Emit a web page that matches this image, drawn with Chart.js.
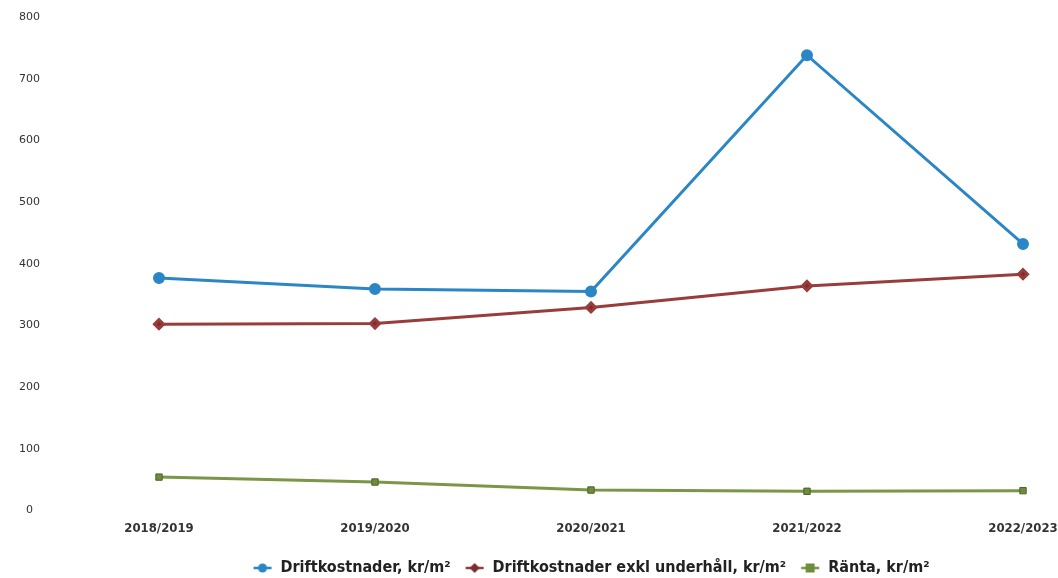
<!DOCTYPE html>
<html>
<head>
<meta charset="utf-8">
<script src="https://cdn.jsdelivr.net/npm/chart.js@4"></script>
<style>
  html, body { margin:0; padding:0; background:#fff; }
  #wrap { width:1058px; height:578px; }
</style>
</head>
<body>
<div id="wrap"><canvas id="chart" width="1058" height="578"></canvas></div>
<script>
// ===== DATA =====
const years = ['2018/2019', '2019/2020', '2020/2021', '2021/2022', '2022/2023'];
const drift = [377, 359, 355, 738, 432];
const driftExkl = [302, 303, 329, 364, 383];
const ranta = [54, 46, 33, 31, 32];

// ===== LEGEND-IKONER (linje + markör) =====
function legendIcon(lineColor, fillColor, shape){
  const c = document.createElement('canvas');
  c.width = 20; c.height = 12;
  const g = c.getContext('2d');
  g.strokeStyle = lineColor;
  g.lineWidth = 2.5;
  g.beginPath(); g.moveTo(1,6); g.lineTo(19,6); g.stroke();
  g.fillStyle = fillColor;
  g.beginPath();
  if(shape === 'circle'){
    g.arc(10,6,4.5,0,Math.PI*2);
  } else if(shape === 'diamond'){
    g.moveTo(10,1); g.lineTo(15,6); g.lineTo(10,11); g.lineTo(5,6); g.closePath();
  } else {
    g.rect(5.5,1.5,9,9);
  }
  g.fill();
  return c;
}
const icons = [
  legendIcon('#2b86c6','#2b86c6','circle'),
  legendIcon('#983c3c','#7d2e30','diamond'),
  legendIcon('#7a9646','#6f8c3c','rect')
];

// ===== CHART =====
const chart = new Chart(document.getElementById('chart'), {
  type:'line',
  data:{
    labels: years,
    datasets:[
      {
        label:'Driftkostnader, kr/m²',
        data: drift,
        borderColor:'#2b86c6',
        backgroundColor:'#2b86c6',
        borderWidth:3,
        pointStyle:'circle',
        pointRadius:4.5,
        tension:0
      },
      {
        label:'Driftkostnader exkl underhåll, kr/m²',
        data: driftExkl,
        borderColor:'#983c3c',
        backgroundColor:'#7d2e30',
        borderWidth:3,
        pointStyle:'rectRot',
        pointRadius:4.5,
        tension:0
      },
      {
        label:'Ränta, kr/m²',
        data: ranta,
        borderColor:'#7a9646',
        backgroundColor:'#6f8c3c',
        pointBorderColor:'#4c6428',
        pointBorderWidth:1,
        borderWidth:3,
        pointStyle:'rect',
        pointRadius:4.5,
        tension:0
      }
    ]
  },
  options:{
    responsive:false,
    animation:false,
    layout:{ padding:{ left:18, right:0, top:17, bottom:-8 } },
    plugins:{
      legend:{
        position:'bottom',
        fullSize:false,
        labels:{
          usePointStyle:true,
          pointStyleWidth:20,
          boxHeight:10,
          padding:14,
          color:'#222',
          font:{ family:'DejaVu Sans Condensed', size:16, weight:'bold' },
          generateLabels:(ch)=>{
            const items = Chart.defaults.plugins.legend.labels.generateLabels(ch);
            items.forEach((it,i)=>{ it.pointStyle = icons[i]; });
            return items;
          }
        }
      },
      tooltip:{ enabled:false }
    },
    scales:{
      x:{
        offset:false,
        grid:{ display:false, drawTicks:false },
        border:{ display:false },
        ticks:{
          padding:10,
          maxRotation:0,
          color:'#333',
          font:{ family:'DejaVu Sans Condensed', size:13, weight:'bold' }
        },
        afterFit:(s)=>{
          s.paddingRight = 35;
        }
      },
      y:{
        min:0,
        max:800,
        grid:{ display:false, drawTicks:false },
        border:{ display:false },
        ticks:{
          stepSize:100,
          padding:119,
          crossAlign:'center',
          color:'#333',
          font:{ family:'DejaVu Sans', size:11 }
        },
        // fast bredd, annars drar padding ner allt
        afterFit:(s)=>{
          s.width = 141;
          s.paddingTop = 6;
          s.paddingBottom = 6;
        }
      }
    }
  }
});
</script>
</body>
</html>
